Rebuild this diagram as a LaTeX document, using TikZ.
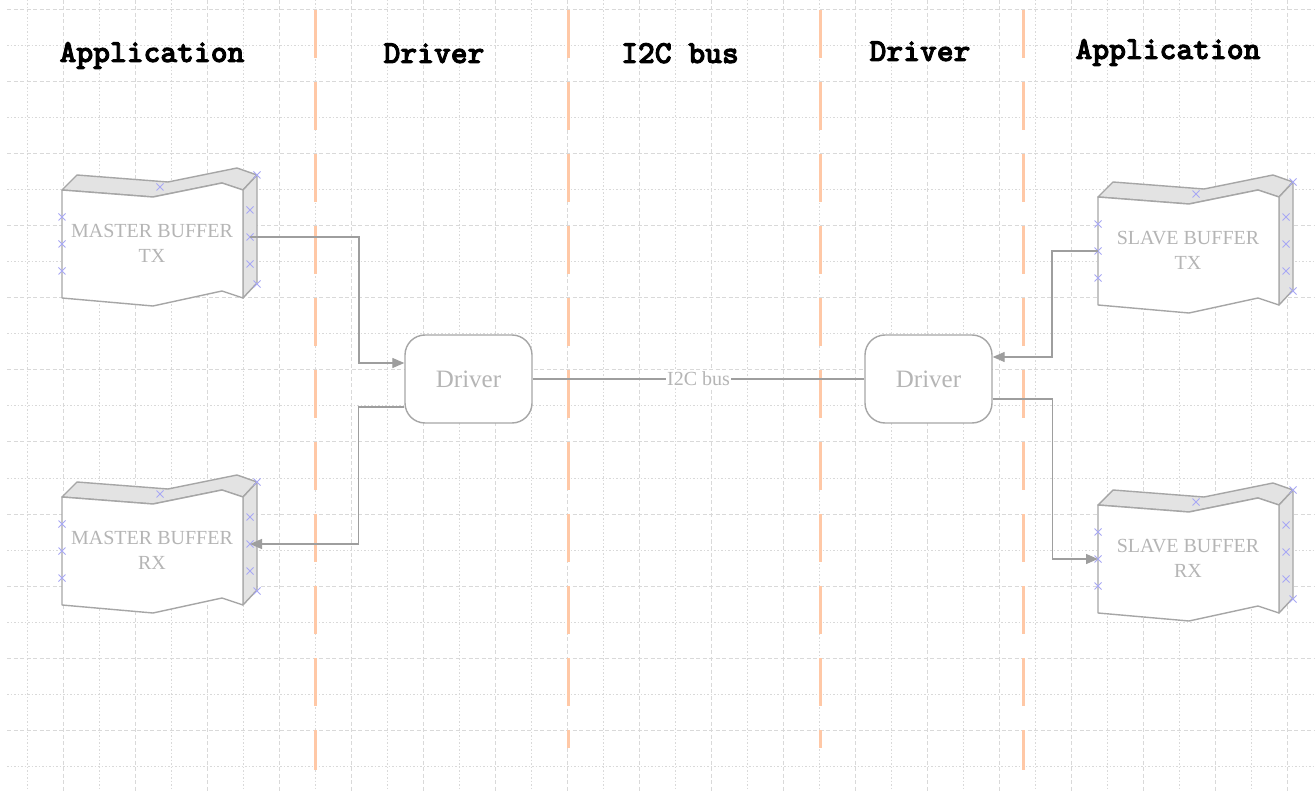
\documentclass[tikz,border=0pt]{standalone}
\usepackage{fontspec}
\setmainfont{Liberation Serif}
\usetikzlibrary{arrows.meta,calc}
\definecolor{gridc}{HTML}{D9D9D9}
\definecolor{lanec}{HTML}{FFC8A6}
\definecolor{shapec}{HTML}{A6A6A6}
\definecolor{facec}{HTML}{E3E3E3}
\definecolor{txtc}{HTML}{B5B5B5}
\definecolor{markc}{HTML}{A8A8F5}
\definecolor{connc}{HTML}{9E9E9E}
\newcommand\heavytext[1]{\special{pdf:literal direct 2 Tr 0.9 w}#1\special{pdf:literal direct 0 Tr}}
\tikzset{
  griddash/.style={draw=gridc, line width=1pt, dash pattern=on 4pt off 2.5pt},
  griddot/.style={draw=gridc, line width=1pt, dash pattern=on 1.5pt off 2pt},
  lane/.style={draw=lanec, line width=3pt, dash pattern=on 48pt off 24pt},
  bufline/.style={draw=shapec, line width=1.4pt, line join=round},
  buftext/.style={text=txtc, align=center, font=\fontsize{20}{25}\selectfont, inner sep=0pt},
  markline/.style={draw=markc, line width=0.9pt},
  drv/.style={draw=shapec, line width=1.4pt, rounded corners=20pt, fill=white,
    minimum width=127pt, minimum height=88pt, inner sep=0pt, text=txtc,
    font=\fontsize{25}{30}\selectfont},
  hdr/.style={anchor=base, inner sep=0pt, font=\ttfamily\bfseries\fontsize{32}{36}\selectfont},
  conn/.style={draw=connc, line width=1.3pt},
  arr/.style={conn, -{Triangle[length=12pt,width=10pt]}},
  buslabel/.style={fill=white, inner sep=1.5pt, text=txtc, font=\fontsize{20}{24}\selectfont},
  buffer/.pic={
    \draw[bufline, fill=facec] (0,0) -- (15,-15) -- (106,-8) -- (175,-22) -- (195,-15)
      -- (181,0) -- (160,-7) -- (91,7) -- cycle;
    \draw[bufline, fill=facec] (181,0) -- (195,-15) -- (195,93) -- (181,108) -- cycle;
    \draw[bufline, fill=white] (0,0) -- (91,7) -- (160,-7) -- (181,0) -- (181,108)
      -- (160,101) -- (91,116) -- (0,108) -- cycle;
    \node[buftext] (-t) at (90,53) {\tikzpictext};
    \foreach \a/\b in {0/27,0/54,0/81,98/-3,195/-15,188/20,188/47,188/74,195/94}
      \draw[markline] (\a,\b) +(-3.5,-3.5) -- +(3.5,3.5) +(-3.5,3.5) -- +(3.5,-3.5);
    \coordinate (-l) at (0,54);
    \coordinate (-r) at (188,47);
  }
}
\begin{document}
\begin{tikzpicture}[x=1pt,y=-1pt]
\useasboundingbox (0,0) rectangle (1315,791);
\fill[white] (0,0) rectangle (1315,791);
% grid
\foreach \k in {0,...,10} {
  \draw[griddash] (7,{10+72*\k}) -- (1315,{10+72*\k});
  \draw[griddot] (7,{46+72*\k}) -- (1315,{46+72*\k});
}
\foreach \k in {0,...,17} {
  \draw[griddot] ({27+72*\k},0) -- ({27+72*\k},791);
  \draw[griddash] ({63+72*\k},0) -- ({63+72*\k},791);
}
% lanes
\draw[lane] (315,10) -- (315,770);
\draw[lane] (568,10) -- (568,748);
\draw[lane] (820,10) -- (820,748);
\draw[lane] (1023,10) -- (1023,770);
% headers
\node[hdr] (h1) at (152,62) {\heavytext{Application}};
\node[hdr] (h2) at (434,63) {\heavytext{Driver}};
\node[hdr] (h3) at (680,63) {\heavytext{I2C bus}};
\node[hdr] (h4) at (920,61) {\heavytext{Driver}};
\node[hdr] (h5) at (1168,59) {\heavytext{Application}};
% buffers
\pic[pic text={MASTER BUFFER\\TX}] (mtx) at (62,190) {buffer};
\pic[pic text={MASTER BUFFER\\RX}] (mrx) at (62,497) {buffer};
\pic[pic text={SLAVE BUFFER\\TX}] (stx) at (1098,197) {buffer};
\pic[pic text={SLAVE BUFFER\\RX}] (srx) at (1098,505) {buffer};
% drivers
\node[drv] (ldrv) at (468.5,379) {Driver};
\node[drv] (rdrv) at (928.5,379) {Driver};
% connectors
\draw[conn] (ldrv) -- node[buslabel] (bus) {I2C bus} (rdrv);
\draw[arr] (mtx-r) -- ++(109,0) |- ($(ldrv.west)+(0,-16)$);
\draw[arr] ($(ldrv.west)+(0,28)$) -- ++(-46,0) |- (mrx-r);
\draw[arr] (stx-l) -- ++(-46,0) |- ($(rdrv.east)+(0,-22)$);
\draw[arr] ($(rdrv.east)+(0,20)$) -- ++(60,0) |- (srx-l);
\end{tikzpicture}
\end{document}
